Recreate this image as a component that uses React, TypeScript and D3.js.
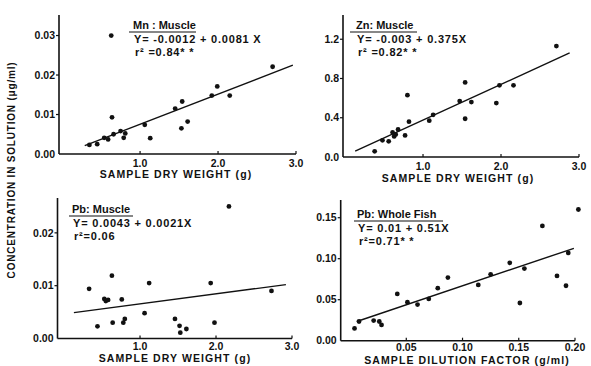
import * as d3 from "d3";

// sample dry weight (g) vs concentration (ug/ml)
const mnX = [0.63, 0.35, 0.45, 0.54, 0.59, 0.66, 0.64, 0.75, 0.79, 0.81, 1.06, 1.13, 1.45, 1.54, 1.53, 1.61, 1.92, 1.99, 2.15, 2.70];
const mnY = [0.030, 0.0023, 0.0025, 0.0041, 0.0037, 0.0050, 0.0093, 0.0058, 0.0041, 0.0052, 0.0074, 0.0040, 0.0115, 0.0133, 0.0065, 0.0082, 0.0148, 0.0171, 0.0148, 0.0221];
const mnFit = [[0.29, 0.0021], [2.96, 0.0225]];

const znX = [0.38, 0.48, 0.56, 0.61, 0.63, 0.65, 0.68, 0.77, 0.80, 0.82, 1.08, 1.13, 1.47, 1.54, 1.54, 1.62, 1.94, 1.98, 2.16, 2.71];
const znY = [0.058, 0.17, 0.16, 0.25, 0.21, 0.23, 0.28, 0.22, 0.63, 0.36, 0.37, 0.43, 0.57, 0.76, 0.39, 0.56, 0.55, 0.73, 0.73, 1.13];
const znFit = [[0.13, 0.06], [2.88, 1.06]];

const pbX = [0.33, 0.44, 0.53, 0.55, 0.58, 0.63, 0.64, 0.76, 0.78, 0.80, 1.06, 1.12, 1.46, 1.52, 1.53, 1.61, 1.93, 1.98, 2.17, 2.73];
const pbY = [0.0094, 0.0023, 0.0075, 0.0071, 0.0073, 0.0119, 0.0030, 0.0074, 0.0030, 0.0037, 0.0048, 0.0105, 0.0037, 0.0024, 0.0011, 0.0018, 0.0105, 0.0030, 0.0250, 0.0090];
const pbFit = [[0.13, 0.0049], [2.92, 0.0102]];

// sample dilution factor (g/ml)
const fishX = [0.004, 0.008, 0.021, 0.026, 0.028, 0.042, 0.051, 0.060, 0.070, 0.078, 0.087, 0.114, 0.125, 0.142, 0.151, 0.155, 0.171, 0.184, 0.192, 0.194, 0.203];
const fishY = [0.015, 0.0234, 0.0246, 0.0234, 0.0193, 0.057, 0.047, 0.044, 0.051, 0.064, 0.077, 0.068, 0.081, 0.095, 0.046, 0.088, 0.140, 0.079, 0.067, 0.107, 0.160];
const fishFit = [[0.006, 0.0234], [0.199, 0.1127]];

const weightTicks = [1.0, 2.0, 3.0];
const dilutionTicks = [0.05, 0.10, 0.15, 0.20];
const mnTicks = [0, 0.01, 0.02, 0.03];
const znTicks = [0, 0.4, 0.8, 1.2];
const pbTicks = [0, 0.01, 0.02];
const fishTicks = [0, 0.05, 0.10, 0.15];

const FONT = "'Liberation Sans', Arial, sans-serif";

const panels = [
  {
    xs: mnX, ys: mnY, fit: mnFit,
    xDomain: [-0.04, 3.0], yDomain: [0, 0.0352],
    left: 59, right: 296, top: 15, bottom: 154,
    xTicks: weightTicks, yTicks: mnTicks, xFmt: d3.format(".1f"), yFmt: d3.format(".2f"),
    xLabel: "SAMPLE DRY WEIGHT (g)", xLabelX: 176, xLabelY: 178,
    title: "Mn : Muscle", eq: "Y= -0.0012 + 0.0081 X", r2: "r² =0.84* *",
    tx: 133, ty: 29, ul: [129, 196], tickGap: 9,
  },
  {
    xs: znX, ys: znY, fit: znFit,
    xDomain: [-0.026, 3.0], yDomain: [0, 1.447],
    left: 343, right: 579, top: 15, bottom: 157,
    xTicks: weightTicks, yTicks: znTicks, xFmt: d3.format(".1f"), yFmt: d3.format(".1f"),
    xLabel: "SAMPLE DRY WEIGHT (g)", xLabelX: 458, xLabelY: 182,
    title: "Zn: Muscle", eq: "Y= -0.003 + 0.375X", r2: "r² =0.82* *",
    tx: 356, ty: 29, ul: [350, 417], tickGap: 9,
  },
  {
    xs: pbX, ys: pbY, fit: pbFit,
    xDomain: [-0.086, 3.0], yDomain: [0, 0.0266],
    left: 57.5, right: 292, top: 198, bottom: 338.5,
    xTicks: weightTicks, yTicks: pbTicks, xFmt: d3.format(".1f"), yFmt: d3.format(".2f"),
    xLabel: "SAMPLE DRY WEIGHT (g)", xLabelX: 175, xLabelY: 362,
    title: "Pb: Muscle", eq: "Y= 0.0043 + 0.0021X", r2: "r²=0.06",
    tx: 72, ty: 213, ul: [69, 133], tickGap: 8,
  },
  {
    xs: fishX, ys: fishY, fit: fishFit,
    xDomain: [-0.0083, 0.20], yDomain: [0, 0.1716],
    left: 340.7, right: 575, top: 200, bottom: 340.7,
    xTicks: dilutionTicks, yTicks: fishTicks, xFmt: d3.format(".2f"), yFmt: d3.format(".2f"),
    xLabel: "SAMPLE DILUTION FACTOR (g/ml)", xLabelX: 467, xLabelY: 364,
    title: "Pb: Whole Fish", eq: "Y= 0.01 + 0.51X", r2: "r²=0.71* *",
    tx: 357, ty: 218, ul: [354, 443], tickGap: 6.5,
  },
];

function Panel({ p }: { p: any }) {
  const x = d3.scaleLinear().domain(p.xDomain).range([p.left, p.right]);
  const y = d3.scaleLinear().domain(p.yDomain).range([p.bottom, p.top]);
  const line = d3.line<number[]>().x(d => x(d[0])).y(d => y(d[1]));

  return (
    <g fontFamily={FONT} fontWeight="bold" fill="#111">
      {/* axes */}
      <line x1={p.left} x2={p.left} y1={p.top} y2={p.bottom} stroke="#111" strokeWidth={1.6} />
      <line x1={p.left} x2={p.right} y1={p.bottom} y2={p.bottom} stroke="#111" strokeWidth={1.6} />

      {p.yTicks.map((t: number) => (
        <g key={"y" + t}>
          {t > 0 && <line x1={p.left - 3} x2={p.left} y1={y(t)} y2={y(t)} stroke="#111" strokeWidth={1.2} />}
          <text x={p.left - 4} y={y(t)} dy="0.35em" textAnchor="end" fontSize={10.5}>{p.yFmt(t)}</text>
        </g>
      ))}
      {p.xTicks.map((t: number) => (
        <g key={"x" + t}>
          <line x1={x(t)} x2={x(t)} y1={p.bottom - 3} y2={p.bottom} stroke="#111" strokeWidth={1.2} />
          <text x={x(t)} y={p.bottom + p.tickGap} dy="0.35em" textAnchor="middle" fontSize={10.5}>{p.xFmt(t)}</text>
        </g>
      ))}

      <text x={p.xLabelX} y={p.xLabelY} textAnchor="middle" fontSize={10.5} letterSpacing={1.1}>{p.xLabel}</text>

      {/* fitted line */}
      <path d={line(p.fit) || ""} fill="none" stroke="#111" strokeWidth={1.4} />

      {p.xs.map((v: number, i: number) => (
        <circle key={i} cx={x(v)} cy={y(p.ys[i])} r={2.4} fill="#111" />
      ))}

      {/* annotation */}
      <text x={p.tx} y={p.ty} fontSize={11}>{p.title}</text>
      <line x1={p.ul[0]} x2={p.ul[1]} y1={p.ty + 3} y2={p.ty + 3} stroke="#111" strokeWidth={1.2} />
      <text x={p.tx + 1} y={p.ty + 14} fontSize={11} letterSpacing={0.8}>{p.eq}</text>
      <text x={p.tx + 2} y={p.ty + 27} fontSize={11} letterSpacing={0.8}>{p.r2}</text>
    </g>
  );
}

export default function App() {
  return (
    <svg width={591} height={366} style={{ position: "absolute", left: 0, top: 0, background: "#fff" }}>
      <rect width={591} height={366} fill="#fff" />
      {panels.map((p, i) => <Panel key={i} p={p} />)}
      <text
        transform="translate(15,170) rotate(-90)"
        textAnchor="middle"
        fontFamily={FONT}
        fontWeight="bold"
        fontSize={10}
        letterSpacing={0.8}
        fill="#111"
      >
        CONCENTRATION IN SOLUTION (μg/ml)
      </text>
    </svg>
  );
}
